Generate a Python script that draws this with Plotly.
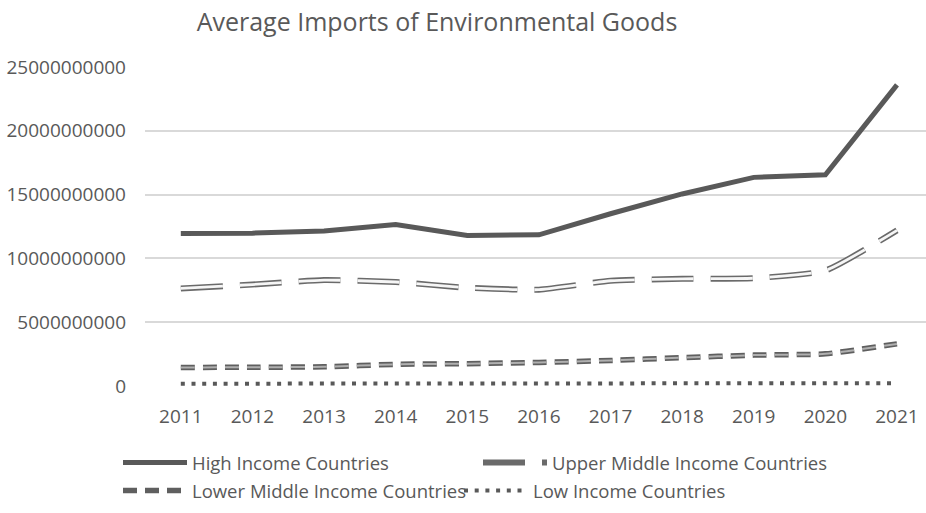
import plotly.graph_objects as go

years = ["2011", "2012", "2013", "2014", "2015", "2016", "2017", "2018", "2019", "2020", "2021"]
high_income = [11.95e9, 11.98e9, 12.15e9, 12.65e9, 11.8e9, 11.85e9, 13.5e9, 15.05e9, 16.35e9, 16.55e9, 23.6e9]
upper_middle = [7.65e9, 7.95e9, 8.3e9, 8.15e9, 7.7e9, 7.55e9, 8.25e9, 8.4e9, 8.45e9, 9.05e9, 12.2e9]
lower_middle = [1.45e9, 1.47e9, 1.5e9, 1.7e9, 1.75e9, 1.85e9, 2.0e9, 2.22e9, 2.42e9, 2.52e9, 3.3e9]
low_income = [0.18e9, 0.19e9, 0.2e9, 0.21e9, 0.2e9, 0.2e9, 0.2e9, 0.21e9, 0.22e9, 0.22e9, 0.22e9]
y_ticks = [0, 5e9, 10e9, 15e9, 20e9, 25e9]
y_tick_labels = ["0", "5000000000", "10000000000", "15000000000", "20000000000", "25000000000"]

FONT = "Open Sans"
TXT = "#595959"
W, H = 926, 513

fig = go.Figure()

# High income: solid thick
fig.add_trace(go.Scatter(x=years, y=high_income, mode="lines", name="High Income Countries",
                         line=dict(color="#595959", width=5), legend="legend"))
# Upper middle: double-outlined long dash
fig.add_trace(go.Scatter(x=years, y=upper_middle, mode="lines", name="Upper Middle Income Countries",
                         line=dict(color="#6a6a6a", width=6, dash="42px,17px", shape="spline", smoothing=0.5),
                         legend="legend2"))
fig.add_trace(go.Scatter(x=years, y=upper_middle, mode="lines", showlegend=False, hoverinfo="skip",
                         line=dict(color="#f6f6f6", width=2.8, dash="42px,17px", shape="spline", smoothing=0.5)))
# Lower middle: short dash outlined
fig.add_trace(go.Scatter(x=years, y=lower_middle, mode="lines", name="Lower Middle Income Countries",
                         line=dict(color="#5f5f5f", width=5.5, dash="14px,8px", shape="spline", smoothing=0.5),
                         legend="legend3"))
fig.add_trace(go.Scatter(x=years, y=lower_middle, mode="lines", showlegend=False, hoverinfo="skip",
                         line=dict(color="#b0b0b0", width=2, dash="14px,8px", shape="spline", smoothing=0.5)))
# Low income: dotted
fig.add_trace(go.Scatter(x=years, y=low_income, mode="lines", name="Low Income Countries",
                         line=dict(color="#595959", width=4, dash="4px,6.7px"), legend="legend4"))


def leg(x_px, y_px):
    return dict(orientation="h", xref="container", yref="container", x=x_px / W, y=1 - y_px / H,
                xanchor="left", yanchor="middle", itemwidth=64,
                font=dict(family=FONT, size=18.5, color=TXT), bgcolor="rgba(0,0,0,0)")


fig.update_layout(
    width=W, height=H,
    margin=dict(l=145, r=0, t=67, b=127),
    paper_bgcolor="white", plot_bgcolor="white",
    font=dict(family=FONT, color=TXT, size=19),
    title=dict(text="Average Imports of Environmental Goods", font=dict(family=FONT, size=25, color=TXT),
               x=437 / W, xanchor="center", xref="container",
               y=1 - 22 / H, yanchor="middle", yref="container"),
    xaxis=dict(type="category", range=[-0.5, 10.405], showgrid=False, zeroline=False,
               showline=False, ticks="", tickfont=dict(size=19, color=TXT), ticklabelstandoff=17),
    yaxis=dict(range=[0, 25e9], tickvals=y_ticks, ticktext=y_tick_labels, showgrid=True,
               gridcolor="#d9d9d9", gridwidth=1.5, zeroline=False, showline=False, ticks="",
               tickfont=dict(size=19, color=TXT), ticklabelstandoff=18),
    legend=leg(118, 463),
    legend2=leg(478, 463),
    legend3=leg(118, 491),
    legend4=leg(459, 491),
    showlegend=True,
)

fig.write_html("out.html", config={"displayModeBar": False},
               post_script="document.body.style.margin='0px';")
